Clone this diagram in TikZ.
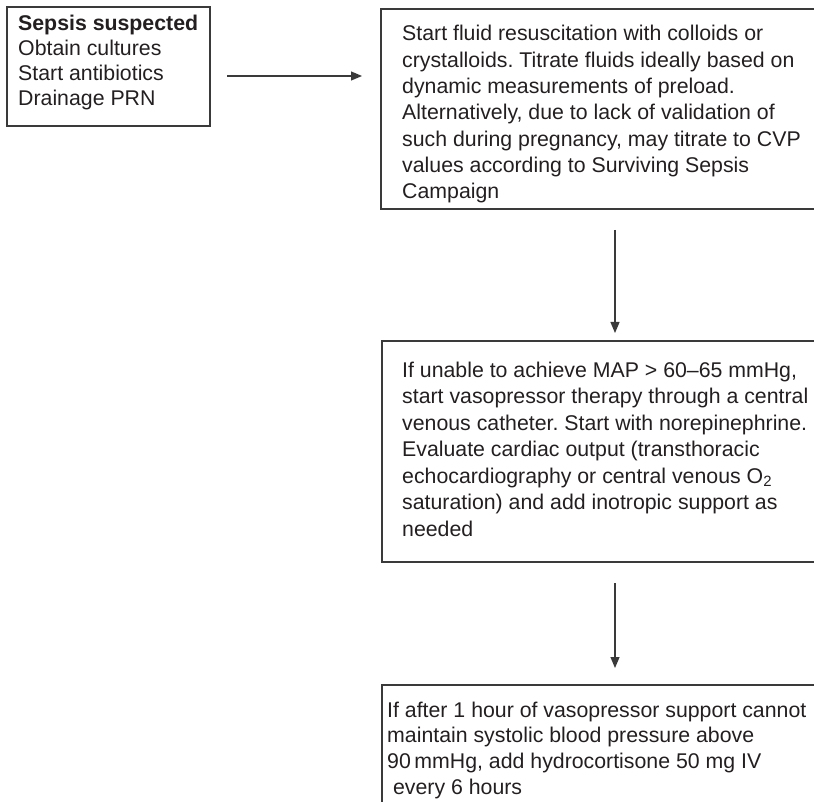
\documentclass[tikz,border=0pt]{standalone}
\usepackage{fontspec}
\setmainfont{Liberation Sans}
\usetikzlibrary{arrows.meta,calc}
\definecolor{ink}{HTML}{231F20}
\definecolor{edge}{HTML}{3A3A3A}
\begin{document}
\frenchspacing
\begin{tikzpicture}[x=1pt,y=1pt,
  boxst/.style={draw=edge, line width=1.2pt, rectangle, anchor=north west, inner sep=0pt, outer sep=0pt},
  txt/.style={anchor=base west, align=left, inner sep=0pt, text=ink},
  arr/.style={draw=edge, line width=1.2pt, -{Triangle[length=11pt,width=9pt]}}]
\useasboundingbox (0,0) rectangle (814,-802);
\clip (0,0) rectangle (814,-802);
\node[boxst, minimum width=203pt, minimum height=119pt] (b1) at (7,-7) {};
\node[boxst, minimum width=470pt, minimum height=200pt] (b2) at (381,-9) {};
\node[boxst, minimum width=470pt, minimum height=221pt] (b3) at (382,-341) {};
\node[boxst, minimum width=470pt, minimum height=160pt] (b4) at (382,-685) {};
\node[txt, font=\fontsize{21.3}{24.7}\selectfont] (t1) at (18,-105.1)
  {\textbf{Sepsis suspected}\\Obtain cultures\\Start antibiotics\\Drainage PRN};
\node[txt, font=\fontsize{21.3}{26.3}\selectfont] (t2) at (402,-198.8)
  {Start fluid resuscitation with colloids or\\crystalloids. Titrate fluids ideally based on\\dynamic measurements of preload.\\Alternatively, due to lack of validation of\\such during pregnancy, may titrate to CVP\\values according to Surviving Sepsis\\Campaign};
\node[txt, font=\fontsize{21.3}{26.5}\selectfont] (t3) at (402,-536)
  {If unable to achieve MAP > 60--65 mmHg,\\start vasopressor therapy through a central\\venous catheter. Start with norepinephrine.\\Evaluate cardiac output (transthoracic\\echocardiography or central venous O\textsubscript{2}\\saturation) and add inotropic support as\\needed};
\node[txt, font=\fontsize{21.3}{25.7}\selectfont] (t4) at (387,-794.1)
  {If after 1 hour of vasopressor support cannot\\maintain systolic blood pressure above\\90\,mmHg, add hydrocortisone 50 mg IV\\\ every 6 hours};
\coordinate (h) at (0,-76);
\coordinate (v) at (615,0);
\draw[arr] ($(b1.east |- h)+(17,0)$) -- ($(b2.west |- h)+(-19,0)$);
\draw[arr] ($(b2.south -| v)+(0,-21)$) -- ($(b3.north -| v)+(0,8)$);
\draw[arr] ($(b3.south -| v)+(0,-21)$) -- ($(b4.north -| v)+(0,17)$);
\end{tikzpicture}
\end{document}
